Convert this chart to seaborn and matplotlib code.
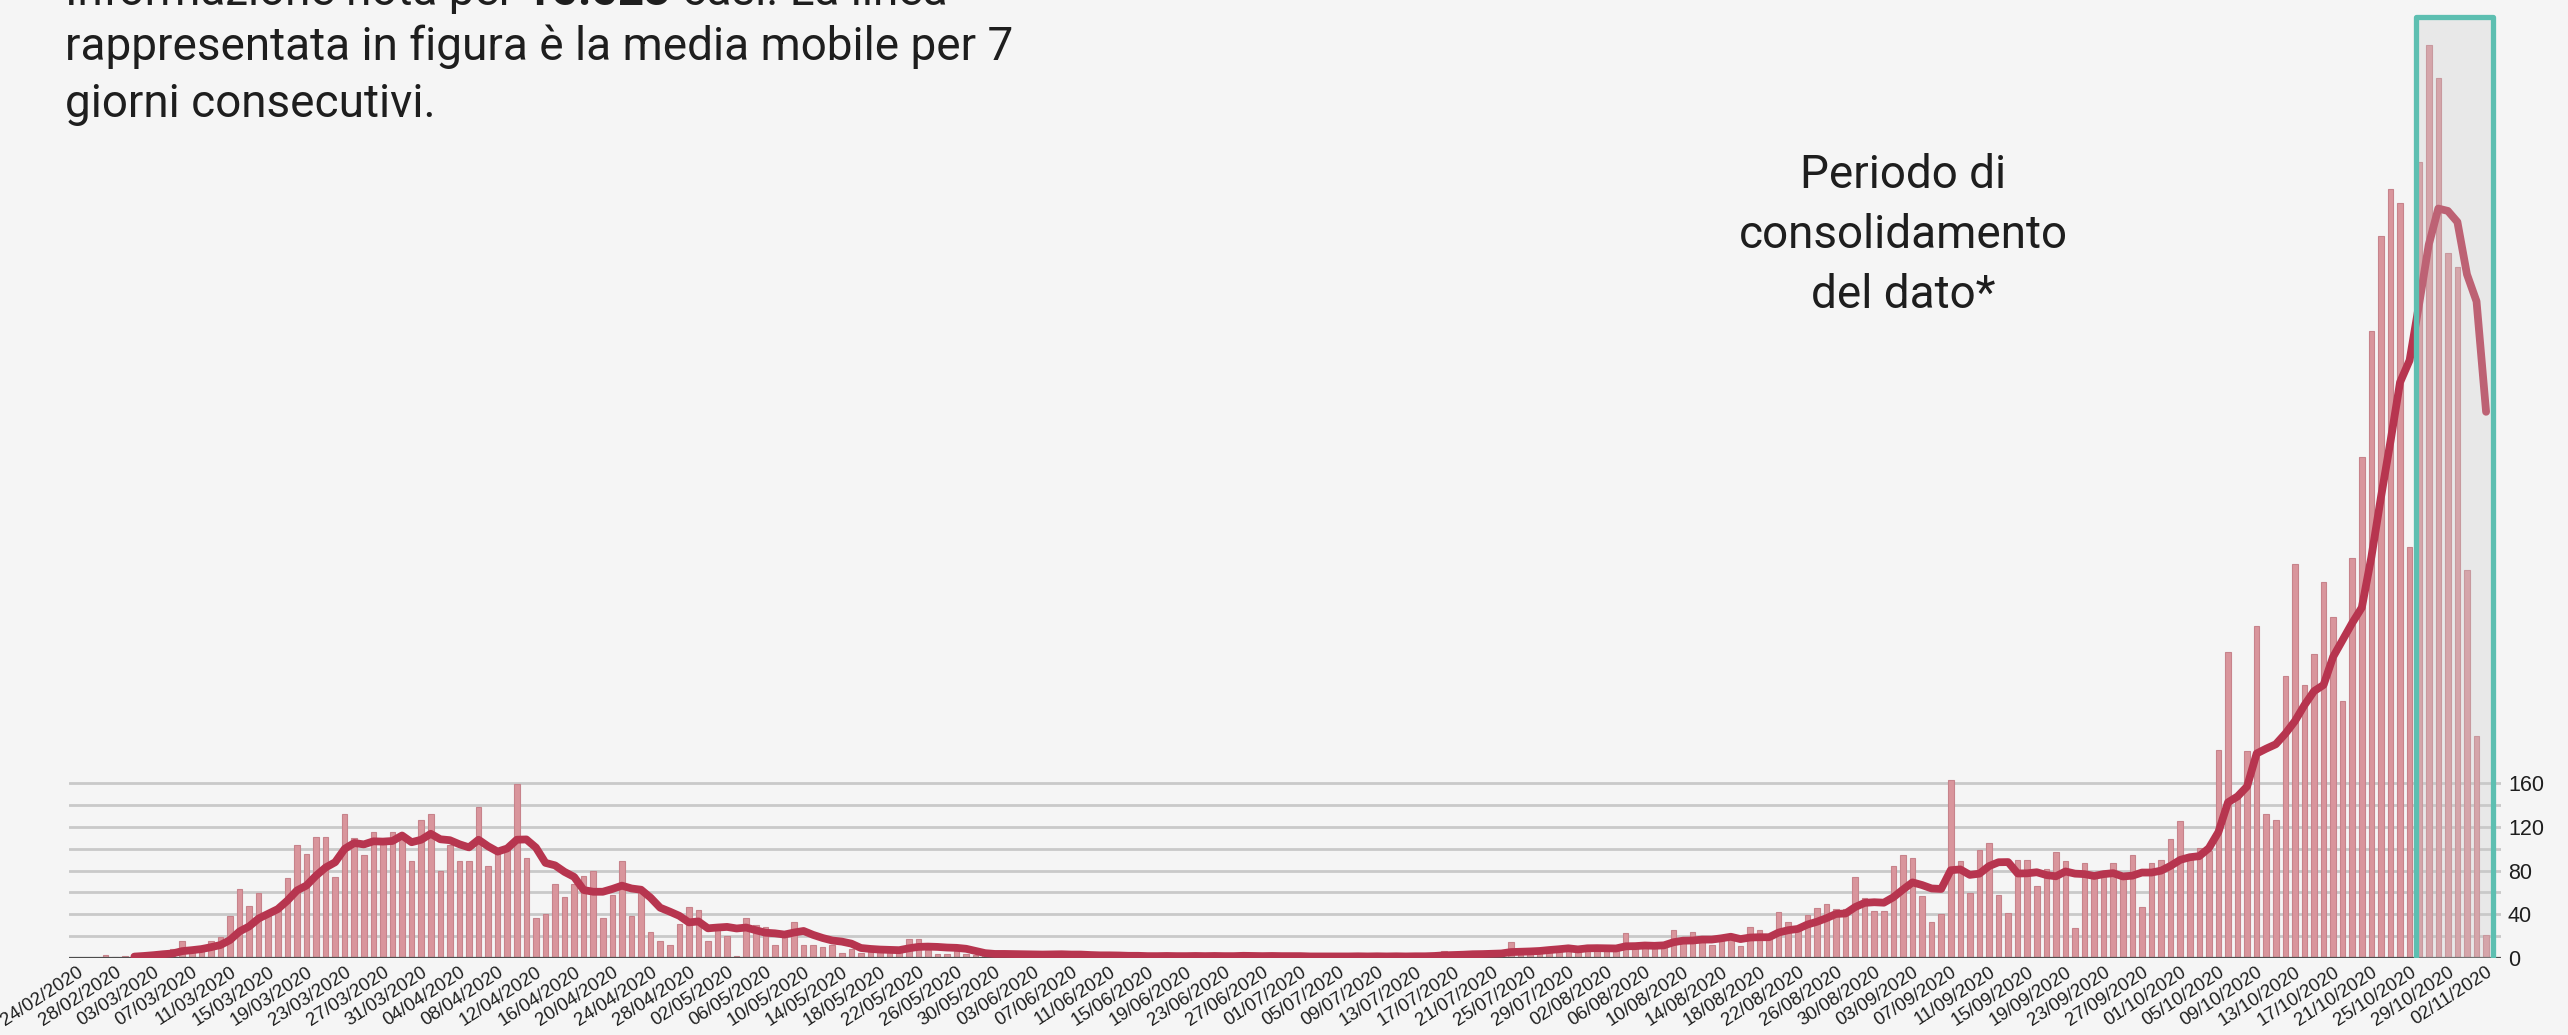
import numpy as np
import pandas as pd
import matplotlib
matplotlib.use("Agg")
import matplotlib.pyplot as plt
from matplotlib.patches import Rectangle
from matplotlib.ticker import FixedLocator
import seaborn as sns

# ------------------------------------------------------------
# Dati: casi giornalieri (dal 24/02/2020)
# ------------------------------------------------------------
first_day = "2020-02-24"

cases_feb = [0, 0, 0, 3, 1, 2]
cases_mar = [3, 4, 5, 6, 8, 16, 8, 10, 16, 19, 38, 63, 48, 59, 40, 46,
             73, 103, 95, 111, 111, 74, 132, 110, 94, 115, 109, 115, 109, 89, 126]
cases_apr = [132, 80, 103, 89, 89, 138, 84, 98, 100, 159, 91, 37, 40, 68, 56,
             68, 75, 80, 37, 58, 89, 38, 60, 24, 16, 12, 31, 47, 44, 16]
cases_may = [29, 20, 2, 37, 30, 28, 12, 21, 33, 12, 12, 10, 12, 5, 8, 5,
             6, 8, 8, 10, 17, 17, 7, 4, 4, 6, 4, 3, 3, 2, 4]
cases_jun = [3, 5, 3, 2, 4, 3, 2, 3, 2, 1, 2, 3, 1, 2, 1, 2, 2, 1, 3, 2,
             1, 2, 1, 2, 3, 2, 1, 2, 1, 1]
cases_jul = [2, 1, 2, 1, 2, 1, 2, 1, 2, 1, 2, 1, 2, 2, 3, 6, 3, 4, 4, 3,
             4, 5, 15, 5, 6, 7, 9, 9, 11, 8, 12]
cases_aug = [7, 6, 8, 23, 12, 12, 10, 10, 26, 18, 24, 18, 12, 18, 20, 11,
             28, 26, 18, 42, 33, 28, 39, 46, 49, 45, 45, 74, 55, 43, 43]
cases_sep = [84, 94, 91, 57, 33, 40, 163, 89, 59, 99, 105, 58, 41, 90, 90,
             66, 81, 97, 89, 27, 87, 78, 78, 87, 76, 94, 47, 87, 90, 109]
cases_oct = [125, 93, 101, 98, 190, 280, 147, 189, 304, 132, 126, 258, 360,
             250, 278, 344, 312, 235, 366, 458, 573, 660, 703, 690, 376, 728,
             835, 805, 645, 632, 355]
cases_nov = [203, 21]

# assi e testi
y_ticks = [0, 40, 80, 120, 160]
y_minor = [20, 60, 100, 140]
label_every = 4
period_start = "2020-10-26"
period_end = "2020-11-02"

intro_lines = ["rappresentata in figura è la media mobile per 7",
               "giorni consecutivi."]
intro_first = [("Informazione nota per", "normal"), (" 15.523", "bold"),
               (" casi. La linea", "normal")]
period_text = ["Periodo di", "consolidamento", "del dato*"]

COLORS = {
    "bg": "#f5f5f5",
    "bar": "#d9959c",
    "bar_edge": "#c7838b",
    "line": "#b7354f",
    "grid": "#c9c9c9",
    "base": "#4d4d4d",
    "box": "#5dbfb1",
    "text": "#1e1e1e",
}

# ------------------------------------------------------------
daily = (cases_feb + cases_mar + cases_apr + cases_may + cases_jun +
         cases_jul + cases_aug + cases_sep + cases_oct + cases_nov)
dates = pd.date_range(first_day, periods=len(daily), freq="D")
df = pd.DataFrame({"data": dates, "casi": daily})
df["giorno"] = (df["data"] - df["data"].iloc[0]).dt.days
df["media7"] = df["casi"].rolling(7).mean()

sns.set_theme(style="white")
plt.rcParams["font.family"] = ["Liberation Sans", "DejaVu Sans"]

W, H = 2568, 1035
fig = plt.figure(figsize=(W / 100, H / 100), dpi=100, facecolor=COLORS["bg"])
ax = fig.add_axes([69 / W, 77 / H, 2432 / W, 958 / H])
ax.set_facecolor(COLORS["bg"])

sns.barplot(data=df, x="giorno", y="casi", native_scale=True, width=0.58,
            color=COLORS["bar"], saturation=1, edgecolor=COLORS["bar_edge"],
            linewidth=0.8, errorbar=None, ax=ax, zorder=2)
sns.lineplot(data=df.dropna(), x="giorno", y="media7", color=COLORS["line"],
             linewidth=5.6, ax=ax, zorder=3, solid_joinstyle="round",
             solid_capstyle="round")

ax.axhline(0, color=COLORS["base"], lw=1.6, zorder=2.5)

# riquadro periodo di consolidamento
d0 = (pd.Timestamp(period_start) - dates[0]).days
d1 = (pd.Timestamp(period_end) - dates[0]).days
ax.add_patch(Rectangle((d0 - 0.35, -4), d1 - d0 + 1.1, 864, facecolor="#cccccc",
                       alpha=0.3, edgecolor="none", zorder=4))
ax.add_patch(Rectangle((d0 - 0.35, -4), d1 - d0 + 1.1, 864, fill=False,
                       edgecolor=COLORS["box"], lw=3.8, joinstyle="round",
                       zorder=5))

ax.set_xlim(-0.84, 253.56)
ax.set_ylim(0, 876)

# griglia solo fino a 160
ax.set_yticks(y_ticks)
ax.yaxis.set_minor_locator(FixedLocator(y_minor))
ax.grid(which="both", axis="y", color=COLORS["grid"], lw=2)
ax.grid(False, axis="x")
ax.set_axisbelow(True)
ax.yaxis.tick_right()
ax.tick_params(axis="y", which="both", length=0, labelsize=15.5, pad=5,
               labelcolor=COLORS["text"])

tick_pos = df["giorno"][::label_every]
tick_lab = df["data"][::label_every].dt.strftime("%d/%m/%Y")
ax.set_xticks(tick_pos)
ax.set_xticklabels(tick_lab, rotation=33, ha="right", rotation_mode="anchor",
                   fontsize=13.5, color=COLORS["text"])
ax.tick_params(axis="x", length=0, pad=4)
ax.set_xlabel("")
ax.set_ylabel("")
sns.despine(ax=ax, left=True, bottom=True, right=True, top=True)

# testo introduttivo (prima riga tagliata in alto)
r = fig.canvas.get_renderer()
x = 65 / W
for piece, weight in intro_first:
    t = fig.text(x, 1 - 5 / H, piece, fontsize=33, fontweight=weight,
                 family=["Roboto", "DejaVu Sans"], color=COLORS["text"],
                 va="baseline", ha="left")
    x = t.get_window_extent(r).x1 / W
for i, line in enumerate(intro_lines):
    fig.text(65 / W, 1 - (60 + 57 * i) / H, line, fontsize=33,
             family=["Roboto", "DejaVu Sans"], color=COLORS["text"],
             va="baseline", ha="left")

for i, line in enumerate(period_text):
    fig.text(1903 / W, 1 - (188 + 60 * i) / H, line, fontsize=33,
             family=["Roboto", "DejaVu Sans"],
             color=COLORS["text"], va="baseline", ha="center")

fig.savefig("out.png", dpi=100, facecolor=COLORS["bg"])
